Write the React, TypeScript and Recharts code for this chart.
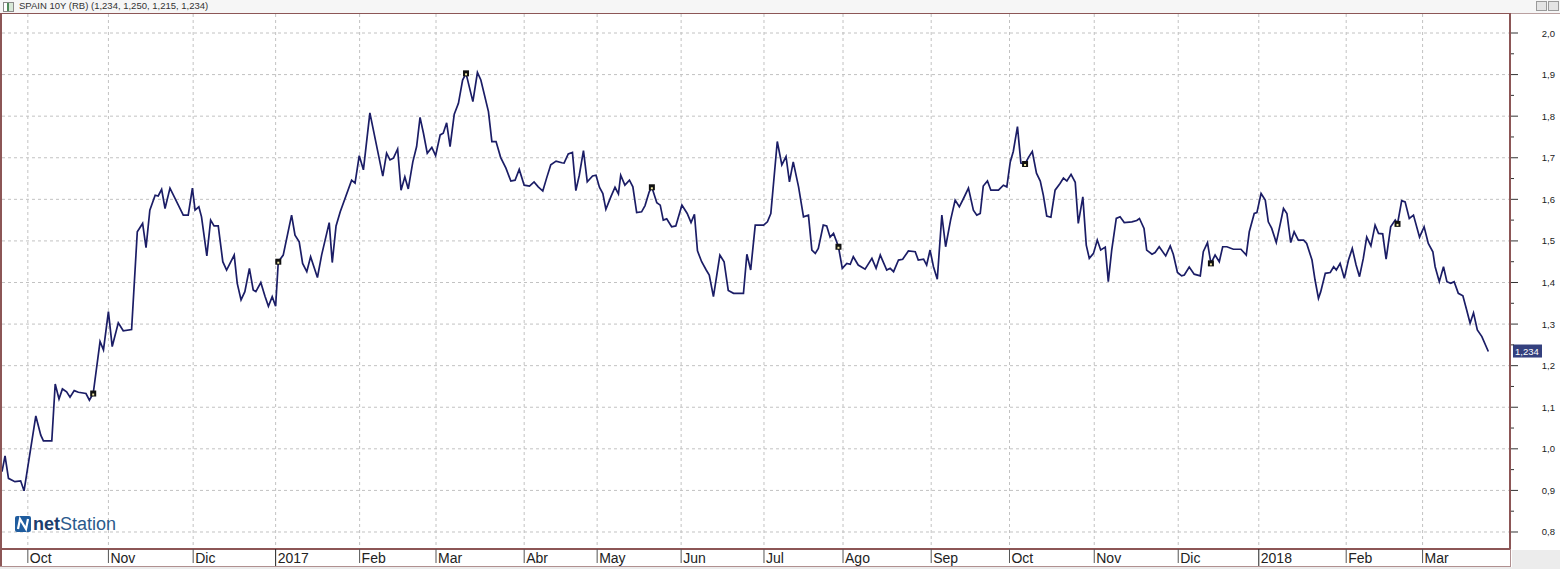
import React from "react";
import { LineChart, Line, XAxis, YAxis, CartesianGrid, ReferenceLine, ReferenceDot } from "recharts";

// trading-session index (x) and yield value (y) of each vertex of the series
const sessionIndex = [
  0, 0.8, 1.7, 3.4, 4.9, 5.8, 8.9, 10.2, 10.9, 13.1, 14, 15, 15.9, 17, 17.9, 19, 20.1, 22.1, 23, 24,
  25.8, 26.7, 28, 29, 30.6, 31.9, 34.1, 35.6, 37, 37.9, 38.9, 40.3, 41.1, 42, 42.9, 44.2, 47.7, 49, 50.1, 50.8,
  51.8, 52.5, 53.9, 54.9, 55.8, 56.9, 58.1, 59.1, 61.1, 61.9, 62.9, 63.9, 65.1, 66.1, 66.8, 68.1, 69.2, 70.1, 71.1, 72,
  72.7, 74, 76.2, 77.1, 78.2, 79.1, 80.2, 81.2, 83, 84.1, 86.1, 86.9, 87.9, 89, 92, 92.9, 94, 95.1, 96.8, 100.2,
  101.2, 102.1, 103, 104.1, 105, 106, 106.9, 108.1, 109.1, 110, 110.9, 111.9, 113.1, 114.1, 115.3, 116.1, 117, 117.9, 119, 120.1,
  121.2, 122.1, 123.9, 125.1, 126, 128, 128.9, 130, 131.2, 132.6, 133.9, 135, 136.1, 137.4, 138.8, 140, 141.1, 142.3, 143.3, 144.4,
  145.8, 147.3, 147.9, 149, 150.1, 151, 151.9, 153, 154, 155.4, 156.3, 157.2, 158.1, 158.9, 160.2, 161.3, 162.2, 162.8, 163.9, 165.1,
  166, 167, 168.3, 169.2, 170.3, 171, 172.3, 173.2, 174, 174.9, 176.2, 177.3, 178.9, 180.3, 181.3, 182.2, 183, 184.1, 185.3, 186.1,
  187.2, 188.9, 190, 191.1, 192.5, 195.1, 196, 197, 198.2, 200.4, 201.4, 202.3, 204, 205.2, 206.3, 207.2, 208.2, 209.6, 210.9, 212.2,
  213.1, 214, 214.8, 216.1, 217, 217.9, 218.8, 220.1, 221.1, 222.3, 223.2, 224, 225.3, 227.1, 228.9, 230, 231.1, 232.8, 233.7, 234.6,
  235.9, 237, 238.5, 240.3, 241.1, 242.5, 243.3, 244.2, 245.1, 246.1, 247.3, 248.3, 249.6, 250.8, 251.9, 253, 254.3, 255.6, 256.5, 257.4,
  258.2, 259.3, 260.2, 262.2, 263.5, 264.4, 265.3, 266.1, 267.2, 268.1, 269.2, 270.1, 271.1, 272.2, 273.2, 274, 274.9, 276, 277.1, 278.4,
  279.3, 280.2, 281.3, 282.4, 283.2, 284.4, 285.3, 286.1, 287.2, 288.2, 289.1, 290.3, 291.1, 292, 293.2, 294.2, 295.3, 297.3, 298.6, 299.3,
  300.5, 301.2, 302.6, 303.4, 304.5, 306.2, 307.4, 308.2, 309.3, 310.4, 311.1, 312.4, 313.7, 315.3, 316.1, 317.2, 318.1, 319.2, 320.3, 321.2,
  322.3, 324, 326, 327.4, 328.2, 329.5, 330.2, 331.3, 332.4, 333.2, 334.1, 335.3, 336.1, 337.2, 338.1, 339.1, 340, 341.1, 342.5, 343.3,
  344.7, 345.5, 346.4, 347, 348.2, 349.5, 350.4, 351.1, 352.1, 353.2, 354.3, 355.3, 356.3, 357.2, 358.2, 359.1, 360.2, 361.3, 362.2, 363.3,
  364.2, 365.4, 366.6, 367.2, 368.3, 369.2, 370.3, 371.4, 373, 374.2, 375.3, 376.5, 377.1, 378.2, 379.3, 380.2, 381.2, 382.1, 383.2, 384.4,
  385.4, 386.3, 387.2, 388.2, 389.4, 391.1,
];

const yieldValues = [
  0.945, 0.983, 0.929, 0.921, 0.923, 0.899, 1.079, 1.033, 1.019, 1.019, 1.156, 1.12, 1.144, 1.137, 1.124, 1.14, 1.136, 1.133, 1.117, 1.133,
  1.258, 1.238, 1.33, 1.246, 1.303, 1.284, 1.287, 1.522, 1.542, 1.484, 1.574, 1.61, 1.608, 1.624, 1.578, 1.627, 1.562, 1.562, 1.627, 1.574,
  1.582, 1.558, 1.464, 1.55, 1.536, 1.536, 1.45, 1.43, 1.466, 1.398, 1.358, 1.378, 1.434, 1.382, 1.378, 1.4, 1.367, 1.343, 1.366, 1.343,
  1.45, 1.466, 1.562, 1.514, 1.498, 1.446, 1.426, 1.462, 1.412, 1.466, 1.544, 1.448, 1.536, 1.57, 1.646, 1.639, 1.705, 1.671, 1.808, 1.656,
  1.711, 1.695, 1.699, 1.721, 1.622, 1.654, 1.625, 1.69, 1.727, 1.797, 1.759, 1.711, 1.725, 1.705, 1.755, 1.759, 1.784, 1.727, 1.805, 1.831,
  1.887, 1.903, 1.835, 1.905, 1.887, 1.811, 1.739, 1.739, 1.701, 1.675, 1.644, 1.646, 1.672, 1.634, 1.632, 1.642, 1.63, 1.62, 1.651, 1.683,
  1.692, 1.688, 1.687, 1.709, 1.713, 1.621, 1.658, 1.717, 1.642, 1.656, 1.658, 1.629, 1.614, 1.576, 1.606, 1.629, 1.613, 1.658, 1.634, 1.646,
  1.63, 1.568, 1.57, 1.585, 1.618, 1.629, 1.592, 1.586, 1.55, 1.553, 1.534, 1.536, 1.586, 1.566, 1.544, 1.564, 1.476, 1.45, 1.43, 1.418,
  1.366, 1.466, 1.45, 1.381, 1.374, 1.374, 1.468, 1.43, 1.538, 1.538, 1.546, 1.566, 1.739, 1.683, 1.703, 1.642, 1.69, 1.63, 1.558, 1.562,
  1.478, 1.47, 1.482, 1.538, 1.536, 1.509, 1.518, 1.486, 1.434, 1.446, 1.444, 1.462, 1.442, 1.432, 1.458, 1.434, 1.466, 1.43, 1.434, 1.426,
  1.454, 1.456, 1.476, 1.474, 1.454, 1.456, 1.442, 1.478, 1.438, 1.408, 1.562, 1.486, 1.55, 1.598, 1.582, 1.602, 1.627, 1.574, 1.562, 1.566,
  1.632, 1.644, 1.622, 1.622, 1.634, 1.63, 1.69, 1.715, 1.775, 1.687, 1.685, 1.701, 1.715, 1.663, 1.644, 1.61, 1.56, 1.557, 1.622, 1.638,
  1.651, 1.644, 1.66, 1.641, 1.542, 1.606, 1.49, 1.458, 1.47, 1.502, 1.478, 1.485, 1.402, 1.478, 1.554, 1.558, 1.544, 1.546, 1.549, 1.554,
  1.53, 1.478, 1.468, 1.472, 1.486, 1.464, 1.488, 1.468, 1.424, 1.416, 1.418, 1.437, 1.42, 1.416, 1.474, 1.496, 1.446, 1.466, 1.45, 1.486,
  1.486, 1.48, 1.48, 1.466, 1.522, 1.566, 1.568, 1.614, 1.598, 1.546, 1.53, 1.496, 1.53, 1.578, 1.566, 1.496, 1.522, 1.502, 1.502, 1.494,
  1.454, 1.406, 1.362, 1.378, 1.422, 1.424, 1.438, 1.43, 1.446, 1.41, 1.454, 1.482, 1.442, 1.414, 1.458, 1.509, 1.488, 1.538, 1.518, 1.517,
  1.456, 1.534, 1.55, 1.541, 1.597, 1.594, 1.554, 1.562, 1.509, 1.534, 1.494, 1.474, 1.438, 1.402, 1.438, 1.402, 1.398, 1.402, 1.374, 1.368,
  1.334, 1.302, 1.327, 1.286, 1.27, 1.234,
];

// event markers (small black squares on the line)
const eventSessions = [24, 72.7, 122.1, 171, 220.1, 269.2, 318.1, 367.2];
const eventValues = [1.133, 1.45, 1.903, 1.629, 1.486, 1.685, 1.446, 1.541];

// month boundaries on the session axis
const monthTickSessions = [6.8, 28.0, 50.3, 72.0, 94.1, 114.2, 137.4, 156.6, 178.7, 200.5, 221.3, 244.5, 265.1, 287.4, 309.5, 330.7, 353.7, 373.8];
const monthTickLabels = ["Oct", "Nov", "Dic", "2017", "Feb", "Mar", "Abr", "May", "Jun", "Jul", "Ago", "Sep", "Oct", "Nov", "Dic", "2018", "Feb", "Mar"];

const yTickValues = [0.8, 0.85, 0.9, 0.95, 1.0, 1.05, 1.1, 1.15, 1.2, 1.25, 1.3, 1.35, 1.4, 1.45, 1.5, 1.55, 1.6, 1.65, 1.7, 1.75, 1.8, 1.85, 1.9, 1.95, 2.0];
const yMajorValues = [0.8, 0.9, 1.0, 1.1, 1.2, 1.3, 1.4, 1.5, 1.6, 1.7, 1.8, 1.9, 2.0];

const lastValue = 1.234;
const lastValueLabel = "1,234";
const titleText = "SPAIN 10Y (RB) (1,234, 1,250, 1,215, 1,234)";

const BORDER = "#8c5656";
const LINE = "#1b1d66";
const GRID = "#c2c2c2";

const data = sessionIndex.map((d, i) => ({ d, v: yieldValues[i] }));

const XTick = (props: any) => {
  const { x, y, payload } = props;
  const i = monthTickSessions.indexOf(payload.value);
  const label = monthTickLabels[i] ?? "";
  const isYear = /^\d{4}$/.test(label);
  return (
    <g>
      <line x1={x} x2={x} y1={y} y2={y + (isYear ? 18 : 14)} stroke={isYear ? "#222" : "#555"} strokeWidth={1} />
      <text
        x={x + 2}
        y={y + 14}
        fontSize={14}
        fontFamily="'Liberation Sans Narrow', 'Liberation Sans', Arial, sans-serif"
        fill="#222"
        textAnchor="start"
      >
        {label}
      </text>
    </g>
  );
};

const YTick = (props: any) => {
  const { x, y, payload } = props;
  const major = Math.round(payload.value * 100) % 10 === 0;
  return (
    <g>
      <line x1={x + 1} x2={x + (major ? 8 : 4)} y1={y} y2={y} stroke="#333" strokeWidth={1} />
      {major && (
        <text
          x={x + 45}
          y={y}
          dy={3.5}
          textAnchor="end"
          fontSize={9.5}
          fontFamily="'Liberation Sans', Arial, sans-serif"
          fill="#222"
        >
          {payload.value.toFixed(1).replace(".", ",")}
        </text>
      )}
    </g>
  );
};

const EventMarker = (props: any) => {
  const { cx, cy } = props;
  if (cx == null || cy == null) return <g />;
  return (
    <g>
      <rect x={cx - 3} y={cy - 3} width={6} height={6} fill="#111" />
      <rect x={cx - 1} y={cy} width={2} height={2} fill="#f2eaa8" />
    </g>
  );
};

const LastLabel = (props: any) => {
  const { viewBox } = props;
  if (!viewBox) return null;
  const x = viewBox.x + viewBox.width + 3;
  const y = viewBox.y;
  return (
    <g>
      <rect x={x} y={y - 7} width={29} height={13} fill="#34407e" />
      <text x={x + 2} y={y + 3.5} fontSize={9.5} fontFamily="'Liberation Sans', Arial, sans-serif" fill="#ffffff">
        {lastValueLabel}
      </text>
    </g>
  );
};

export default function App() {
  return (
    <div style={{ position: "absolute", left: 0, top: 0, width: 1560, height: 569, background: "#ffffff", overflow: "hidden" }}>
      {/* title bar */}
      <div style={{ position: "absolute", left: 0, top: 0, width: 1560, height: 13, background: "#f6f6f6" }} />
      <div
        style={{
          position: "absolute",
          left: 3,
          top: 2,
          width: 9,
          height: 8,
          border: "1px solid #8a8a8a",
          background: "linear-gradient(90deg, #ffffff 0 30%, #4f8a5a 30% 60%, #d8e8d8 60%)",
        }}
      />
      <div
        style={{
          position: "absolute",
          left: 19,
          top: 0,
          fontFamily: "'Liberation Sans', Arial, sans-serif",
          fontSize: 9.5,
          lineHeight: "12px",
          color: "#333",
          whiteSpace: "nowrap",
        }}
      >
        {titleText}
      </div>
      <div style={{ position: "absolute", left: 1536, top: 1, width: 9, height: 8, border: "1px solid #9a9a9a", background: "#e4e4e4" }} />
      <div style={{ position: "absolute", left: 1548, top: 1, width: 9, height: 8, border: "1px solid #9a9a9a", background: "#e4e4e4" }} />

      <div style={{ position: "absolute", left: 0, top: 0 }}>
        <LineChart width={1560} height={569} data={data} margin={{ top: 14, right: 0, bottom: 0, left: 2 }}>
          <CartesianGrid
            horizontalValues={yMajorValues}
            verticalValues={monthTickSessions}
            stroke={GRID}
            strokeDasharray="3 3"
          />
          <XAxis
            dataKey="d"
            type="number"
            domain={[0, 396.8]}
            allowDataOverflow
            ticks={monthTickSessions}
            interval={0}
            height={20}
            tickSize={0}
            tickMargin={0}
            tickLine={false}
            axisLine={{ stroke: BORDER, strokeWidth: 2 }}
            tick={<XTick />}
          />
          <YAxis
            orientation="right"
            type="number"
            domain={[0.7591, 2.0457]}
            allowDataOverflow
            ticks={yTickValues}
            interval={0}
            width={50}
            tickSize={0}
            tickMargin={0}
            tickLine={false}
            axisLine={{ stroke: BORDER, strokeWidth: 2 }}
            tick={<YTick />}
          />
          <ReferenceLine y={lastValue} stroke="none" label={<LastLabel />} />
          <Line
            type="linear"
            dataKey="v"
            stroke={LINE}
            strokeWidth={1.7}
            dot={false}
            activeDot={false}
            isAnimationActive={false}
          />
          {eventSessions.map((s, i) => (
            <ReferenceDot key={i} x={s} y={eventValues[i]} r={3} shape={<EventMarker />} ifOverflow="visible" />
          ))}
        </LineChart>
      </div>

      {/* frame */}
      <div style={{ position: "absolute", left: 0, top: 13, width: 1511, height: 1, background: BORDER }} />
      <div style={{ position: "absolute", left: 1511, top: 13, width: 49, height: 1, background: "#b9a0a0" }} />
      <div style={{ position: "absolute", left: 0, top: 13, width: 2, height: 554, background: BORDER }} />
      <div style={{ position: "absolute", left: 0, top: 567, width: 1560, height: 2, background: "#ececec" }} />
      <div style={{ position: "absolute", left: 0, top: 566, width: 1511, height: 1, background: "#b09090" }} />
      <div style={{ position: "absolute", left: 1512, top: 550, width: 48, height: 19, background: "#ececec" }} />
      <div style={{ position: "absolute", left: 1510, top: 549, width: 1, height: 18, background: "#b09090" }} />

      {/* logo */}
      <div style={{ position: "absolute", left: 15, top: 515, display: "flex", alignItems: "center" }}>
        <svg width={16} height={16}>
          <rect x={0} y={0} width={16} height={16} rx={2} fill="#1f5c9e" />
          <polyline points="3,13 5,3 11,13 13,3" fill="none" stroke="#ffffff" strokeWidth={2.2} />
        </svg>
        <span
          style={{
            marginLeft: 2,
            fontFamily: "'Liberation Sans', Arial, sans-serif",
            fontSize: 18,
            lineHeight: "18px",
            color: "#2a5a8c",
            whiteSpace: "nowrap",
          }}
        >
          <b style={{ color: "#1c3d6c" }}>net</b>Station
        </span>
      </div>
    </div>
  );
}
